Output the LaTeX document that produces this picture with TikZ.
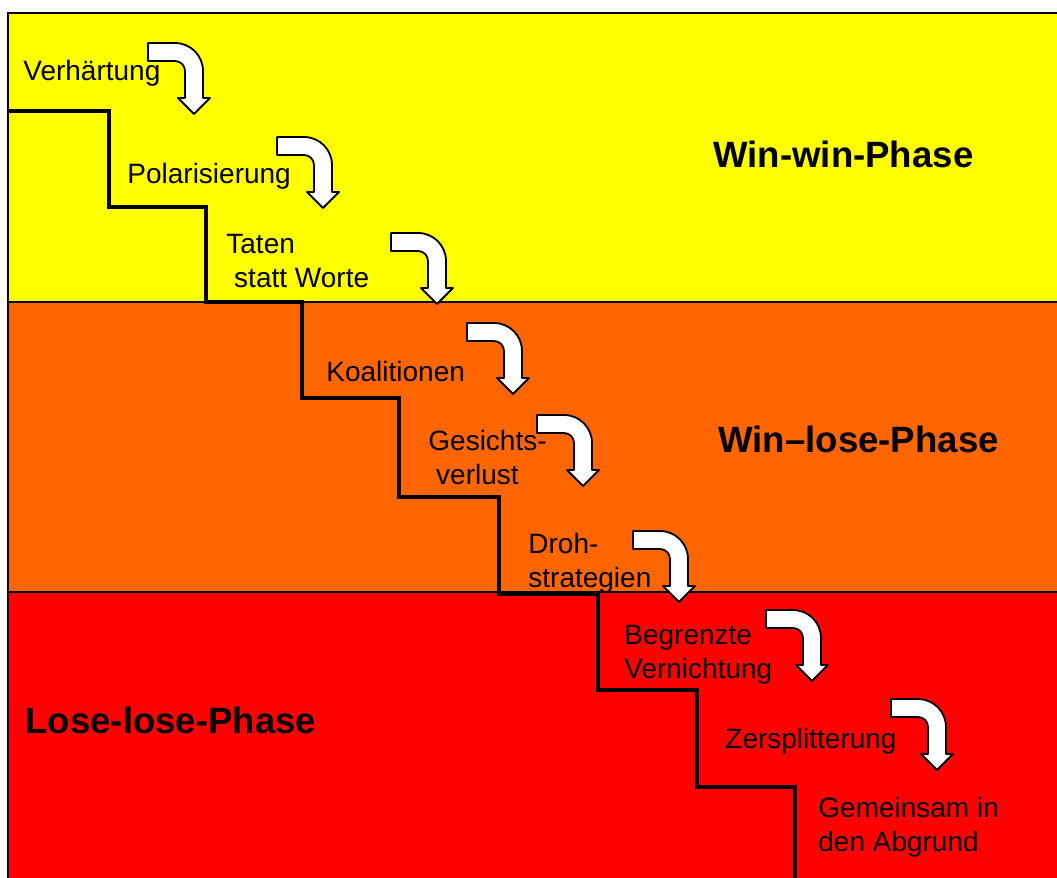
\documentclass[tikz,border=0pt]{standalone}
\usepackage{fontspec}
\setmainfont{Liberation Sans}
\definecolor{winwin}{RGB}{255,255,0}
\definecolor{winlose}{RGB}{255,102,0}
\definecolor{loselose}{RGB}{255,0,0}
\tikzset{
  stage/.style={anchor=base west, inner sep=0pt, align=left, font=\fontsize{14}{17}\selectfont},
  phase/.style={anchor=base west, inner sep=0pt, font=\fontsize{18.3}{22}\selectfont\bfseries},
  band/.style={draw=black, line width=1pt},
  turn/.pic={
    \draw[fill=white, line width=0.9pt, line join=round]
      (0,0) -- (27,0) .. controls (42.5,0) and (55,12.5) .. (55,28) -- (55,55)
      -- (62,55) -- (46,71) -- (30,55) -- (37,55) -- (37,28)
      .. controls (37,22.5) and (32.5,18) .. (27,18) -- (0,18) -- cycle;
  }
}

\begin{document}
\begin{tikzpicture}[x=0.5pt, y=-0.5pt]
            \useasboundingbox (0,0) rectangle (1057,878);
            \clip (0,0) rectangle (1057,878);

            % phases
            \filldraw[band, fill=winwin] (8,13) rectangle (1070,302);
            \filldraw[band, fill=winlose] (8,302) rectangle (1070,592);
            \filldraw[band, fill=loselose] (8,592) rectangle (1070,890);

            % staircase
            \draw[line width=2.2pt] (8,111) -| (109,207) -| (206,302) -| (302,398) -| (399,497)
                -| (499,594) -| (598,690) -| (697,787) -| (795,890);

            \node[stage] (s1) at (23,81) {Verhärtung};
            \node[stage] (s2) at (127,183) {Polarisierung};
            \node[stage] (s3) at (226,287) {Taten\\\hspace*{.28em}statt Worte};
            \node[stage] (s4) at (326,381) {Koalitionen};
            \node[stage] (s5) at (428,484) {Gesichts-\\\hspace*{.28em}verlust};
            \node[stage] (s6) at (528,587) {Droh-\\strategien};
            \node[stage] (s7) at (624,678) {Begrenzte\\Vernichtung};
            \node[stage] (s8) at (725,748) {Zersplitterung};
            \node[stage] (s9) at (818,851) {Gemeinsam in\\den Abgrund};

            \node[phase] (p1) at (713,167) {Win-win-Phase};
            \node[phase] (p2) at (718,452) {Win--lose-Phase};
            \node[phase] (p3) at (25,733) {Lose-lose-Phase};

            % arrows
            \pic at (148,43) {turn};
            \pic at (277,137) {turn};
            \pic at (391,233) {turn};
            \pic at (467,323) {turn};
            \pic at (537,415) {turn};
            \pic at (633,531) {turn};
            \pic at (766,610) {turn};
            \pic at (891,699) {turn};
\end{tikzpicture}
\end{document}
